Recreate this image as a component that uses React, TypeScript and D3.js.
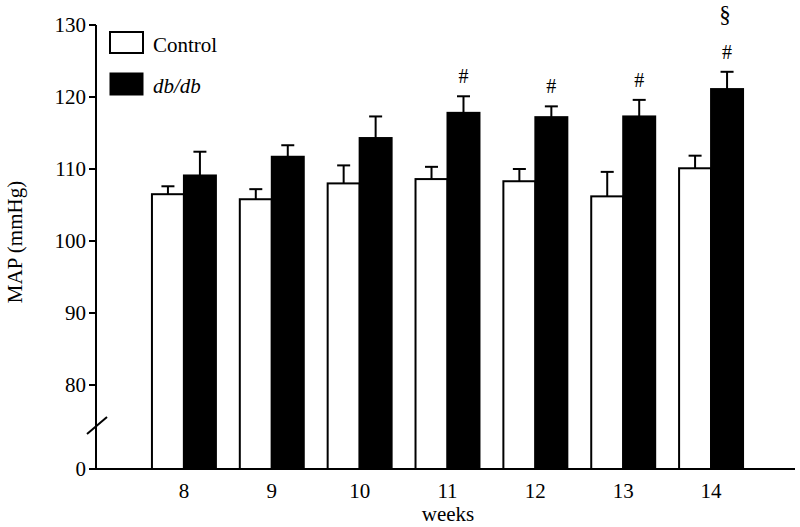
import React from 'react';
import * as d3 from 'd3';

// values (mean and SEM, mmHg)
const weeks = ['8', '9', '10', '11', '12', '13', '14'];
const controlMean = [106.5, 105.8, 108.0, 108.6, 108.3, 106.2, 110.1];
const controlSem = [1.1, 1.4, 2.5, 1.7, 1.7, 3.4, 1.75];
const dbMean = [109.1, 111.7, 114.3, 117.8, 117.2, 117.3, 121.1];
const dbSem = [3.3, 1.6, 3.0, 2.3, 1.5, 2.3, 2.4];
const hashMarks = ['', '', '', '#', '#', '#', '#'];
const sectionMarks = ['', '', '', '', '', '', '§'];
const yTicks = [0, 80, 90, 100, 110, 120, 130];
const groups = ['control', 'db'];

const width = 800;
const height = 527;
const font = '"Liberation Serif", "Times New Roman", serif';

const App = () => {
  // broken axis: 0..80 squeezed, 80..130 linear
  const y = d3.scaleLinear().domain([0, 80, 130]).range([469, 385, 25]);
  const x = d3.scaleBand<string>()
    .domain(weeks)
    .range([140, 755])
    .paddingInner(0.272)
    .paddingOuter(0.136);
  const x1 = d3.scaleBand<string>().domain(groups).range([0, x.bandwidth()]);

  const axisX = 96;
  const capW = 13;

  const rows = weeks.map((w, i) => ({
    week: w,
    bars: [
      { key: 'control', mean: controlMean[i], sem: controlSem[i], fill: '#fff' },
      { key: 'db', mean: dbMean[i], sem: dbSem[i], fill: '#000' },
    ],
    hash: hashMarks[i],
    section: sectionMarks[i],
  }));

  return (
    <svg
      width={width}
      height={height}
      style={{ position: 'absolute', left: 0, top: 0, background: '#fff' }}
      fontFamily={font}
    >
      {rows.map((r) => (
        <g key={r.week} transform={`translate(${x(r.week)},0)`}>
          {r.bars.map((b) => {
            const bx = x1(b.key) as number;
            const cx = bx + x1.bandwidth() / 2;
            const top = y(b.mean);
            const cap = y(b.mean + b.sem);
            return (
              <g key={b.key}>
                <line x1={cx} x2={cx} y1={top} y2={cap} stroke="#000" strokeWidth={2} />
                <line x1={cx - capW / 2} x2={cx + capW / 2} y1={cap} y2={cap} stroke="#000" strokeWidth={2} />
                <rect
                  x={bx}
                  y={top}
                  width={x1.bandwidth()}
                  height={y(0) - top}
                  fill={b.fill}
                  stroke="#000"
                  strokeWidth={2}
                />
              </g>
            );
          })}
          {r.hash && (
            <text
              x={(x1('db') as number) + x1.bandwidth() / 2}
              y={y(r.bars[1].mean + r.bars[1].sem) - 13}
              textAnchor="middle"
              fontSize={20}
            >
              {r.hash}
            </text>
          )}
          {r.section && (
            <text
              x={(x1('db') as number) + x1.bandwidth() / 2 - 2}
              y={y(r.bars[1].mean + r.bars[1].sem) - 50}
              textAnchor="middle"
              fontSize={23}
            >
              {r.section}
            </text>
          )}
          <text
            x={x.bandwidth() / 2}
            y={498}
            textAnchor="middle"
            fontSize={21}
          >
            {r.week}
          </text>
        </g>
      ))}

      {/* axes */}
      <line x1={axisX} x2={axisX} y1={y(130)} y2={y(0)} stroke="#000" strokeWidth={2} />
      <line x1={axisX - 1} x2={795} y1={y(0)} y2={y(0)} stroke="#000" strokeWidth={2} />
      {yTicks.map((t) => (
        <g key={t}>
          <line x1={axisX - 7} x2={axisX} y1={y(t)} y2={y(t)} stroke="#000" strokeWidth={2} />
          <text x={axisX - 10} y={y(t)} dy="0.35em" textAnchor="end" fontSize={21}>
            {t}
          </text>
        </g>
      ))}
      {/* axis break */}
      <line x1={87} x2={107} y1={434} y2={417} stroke="#000" strokeWidth={2} />

      <text
        transform={`translate(22,${242}) rotate(-90)`}
        textAnchor="middle"
        fontSize={21}
      >
        MAP (mmHg)
      </text>
      <text x={448} y={521} textAnchor="middle" fontSize={21}>
        weeks
      </text>

      {/* legend */}
      <rect x={110} y={32} width={33} height={21} fill="#fff" stroke="#000" strokeWidth={2} />
      <text x={153} y={52} fontSize={21}>Control</text>
      <rect x={110} y={73} width={33} height={22} fill="#000" stroke="#000" strokeWidth={1} />
      <text x={153} y={93} fontSize={21} fontStyle="italic">db/db</text>
    </svg>
  );
};

export default App;
